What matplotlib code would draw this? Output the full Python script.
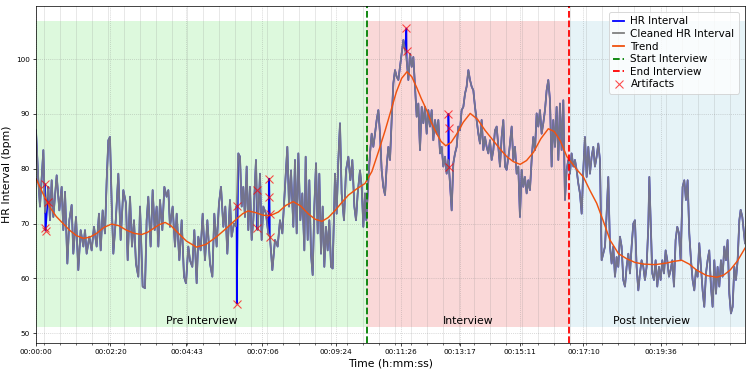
import numpy as np
import matplotlib
matplotlib.use("Agg")
import matplotlib.pyplot as plt
from matplotlib.lines import Line2D

# cleaned HR interval: time (s) and value (bpm)
t_sec = [0, 4.4, 7.5, 13.8, 16.9, 23.2, 26.3, 29.5, 32.6, 38.9, 43.9, 48.3, 51.4, 54.6, 59.0,
         62.7, 67.1, 70.2, 75.3, 79.6, 84.0, 89.1, 92.2, 95.3, 100.3, 104.7, 109.1, 114.1, 118.5,
         121.7, 125.4, 129.8, 133.0, 136.1, 139.2, 142.4, 145.5, 150.5, 154.9, 159.3, 164.3, 169.3,
         172.5, 176.9, 180.6, 184.4, 188.1, 192.5, 195.7, 200.7, 205.1, 208.2, 211.3, 215.7, 219.5,
         223.3, 227.0, 230.2, 233.3, 237.7, 241.5, 245.8, 249.0, 252.1, 257.1, 261.5, 264.7, 269.7,
         274.1, 278.5, 282.2, 286.6, 289.7, 294.1, 297.9, 302.3, 305.4, 309.8, 313.6, 318.0, 322.4,
         327.4, 331.8, 335.5, 339.9, 344.3, 348.1, 352.5, 356.2, 360.0, 365.0, 368.1, 372.5, 376.3,
         380.7, 383.8, 387.0, 390.1, 393.2, 396.4, 399.5, 402.6, 405.8, 408.9, 413.9, 417.1, 421.5,
         424.6, 427.7, 432.7, 437.1,
         440.3, 444.7, 449.7, 454.7, 459.1, 463.5, 468.5, 472.9, 476.1, 479.8, 484.2, 487.3, 490.5,
         493.6, 497.4, 501.1, 504.9, 507.4, 511.2, 514.3, 517.4, 520.6, 523.7, 526.9, 530.0, 533.1,
         536.3, 539.4, 542.5, 545.7, 548.8, 551.9, 555.1, 558.2, 562.6, 565.7, 568.9, 572.0, 575.1,
         579.5, 583.3, 587.7, 591.5, 595.2, 599.0, 602.1, 605.3, 609.6, 612.8, 615.9, 619.0, 621.6,
         625.3, 628.5, 631.6, 634.7, 637.9, 641.0, 644.1, 647.3, 650.4, 653.5, 656.7, 659.8, 663.0,
         666.1, 669.2, 672.4, 675.5, 678.6, 681.8, 684.9, 688.0, 691.2, 694.3, 697.5, 700.6, 703.7,
         706.9, 710.0, 713.1, 716.3, 719.4, 722.5, 725.7, 728.8, 731.9, 735.1, 738.2, 741.3, 744.5,
         747.6, 750.8, 753.9, 757.0, 760.2, 763.3, 766.4, 769.6, 772.7, 775.8, 779.0, 782.1, 785.2,
         788.4, 791.5, 794.6, 797.8, 800.9, 804.1, 807.2, 810.3, 813.5, 816.6, 819.7, 822.9, 826.0,
         829.1, 832.3, 835.4, 838.5, 841.7, 844.8, 847.9, 851.1, 854.2, 857.4, 860.5, 863.6, 866.8,
         869.9, 873.0, 876.2, 879.3, 882.5,
         885.5, 890.6, 895.0, 898.1, 901.2, 904.4, 907.5, 910.6, 913.8, 916.9, 920.0, 923.2, 926.3,
         929.4, 932.6, 935.7, 938.9, 942.0, 945.1, 948.3, 951.4, 954.5, 957.7, 960.8, 963.9, 967.1,
         970.2, 973.3, 976.5, 979.6, 982.8, 985.9, 989.0, 992.2, 995.3, 998.4, 1001.6, 1004.7,
         1007.8, 1011.0, 1014.1, 1017.2, 1020.4, 1023.5, 1026.7, 1029.8, 1032.9, 1036.1, 1039.2,
         1042.3, 1045.5, 1048.6, 1051.7, 1054.9, 1058.0, 1061.1, 1064.3, 1067.4, 1070.6, 1073.7,
         1076.8, 1080.0, 1083.1, 1086.2, 1089.4, 1092.5, 1095.6, 1098.8, 1101.9, 1105.0, 1108.2,
         1111.3, 1114.5, 1117.6, 1120.7, 1123.9, 1127.0, 1130.1, 1133.3, 1136.4, 1139.5, 1142.7,
         1145.8, 1148.9, 1152.1, 1154.0, 1156.5, 1159.6, 1162.7, 1165.9, 1169.0, 1172.2, 1175.3,
         1178.4, 1181.6, 1184.7, 1187.8, 1191.0, 1194.1, 1197.2, 1200.4, 1203.5, 1206.6, 1209.8,
         1212.9, 1216.7, 1219.8, 1222.9, 1226.1, 1229.2, 1232.4, 1235.5, 1238.6, 1241.8, 1244.9,
         1248.0, 1251.2, 1254.3, 1257.4, 1260.6, 1263.7, 1266.8, 1270.0, 1273.1, 1276.3, 1279.4,
         1282.5, 1285.7, 1288.8, 1291.9, 1295.1, 1298.2, 1301.3, 1304.5, 1307.6, 1310.8, 1313.9,
         1317.0, 1320.2, 1323.4, 1325.9, 1329.0, 1332.1, 1334.0]
hr_bpm = [87.0, 77.9, 73.1, 83.4, 72.0, 76.7, 70.6, 77.9, 71.2, 78.8, 72.4, 76.7, 68.8, 75.8, 62.7,
          70.6, 73.4, 64.5, 71.2, 61.5, 68.8, 65.8, 68.8, 64.5, 67.6, 65.1, 69.4, 65.8, 71.8,
          65.1, 72.4, 68.2, 77.9, 85.2, 85.8, 73.7, 64.5, 71.2, 79.1, 67.0, 76.1, 73.7,
          63.3, 74.9, 65.8, 70.6, 62.7, 60.3, 73.1, 58.5, 58.2, 70.6, 74.9, 65.8, 76.1,
          68.8, 73.1, 65.8, 74.3, 68.8, 76.7, 74.9, 76.1, 69.4, 73.1, 65.8, 71.8, 63.3,
          70.6, 60.3, 59.1, 65.8, 63.3, 62.1, 68.8, 59.1, 67.6, 65.1, 71.8, 63.3, 70.6,
          62.7, 60.3, 71.8, 65.8, 73.7, 76.7, 69.4, 73.1, 64.5, 74.3, 67.6, 70.0, 69.5,
          82.8, 82.2, 73.1, 76.7, 71.2, 80.4, 68.8, 76.7, 67.0, 70.6, 81.6, 68.8, 79.1,
          67.0, 73.1, 71.8, 68.2,
          67.5, 61.5, 67.0, 65.8, 70.6, 68.2, 76.7, 84.0, 73.1, 79.7, 69.4, 81.6, 68.2,
          82.8, 70.6, 75.5, 65.1, 82.2, 67.0, 77.9, 64.5, 60.6, 73.1, 81.0, 68.2, 79.1,
          64.5, 73.1, 62.1, 69.4, 65.1, 70.6, 62.1, 61.8, 79.1, 71.8, 81.6, 88.3, 75.5,
          70.6, 79.7, 82.2, 77.9, 81.6, 73.1, 70.6, 75.5, 79.7, 76.7, 69.4, 75.5, 70.6,
          77.9, 82.8, 86.4, 84.0, 86.4, 88.9, 90.7, 86.4, 79.7, 76.7, 75.2, 80.4, 84.0,
          81.6, 88.9, 95.6, 98.0, 96.8, 96.2, 98.6, 101.0, 103.5, 101.6, 99.8, 96.2, 101.0,
          98.6, 100.4, 95.0, 89.5, 91.9, 83.4, 91.3, 88.3, 91.3, 86.4, 90.7, 87.7, 90.7,
          85.2, 88.9, 86.4, 88.9, 82.8, 84.0, 80.4, 82.2, 79.1, 81.6, 77.3, 72.4, 81.0,
          82.8, 84.0, 87.7, 87.0, 90.7, 91.3, 93.7, 95.0, 98.0, 96.2, 95.0, 94.3, 91.3,
          88.9, 86.4, 84.6, 88.9, 83.4, 85.8, 84.0, 82.8, 85.2, 81.6, 83.4, 87.0, 87.7,
          84.0, 80.4, 85.8, 88.9, 80.4,
          79.8, 83.4, 87.7, 81.6, 84.0, 79.1, 80.4, 71.2, 79.8, 76.7, 78.5, 75.5, 77.9,
          76.1, 81.6, 85.8, 83.4, 90.1, 87.7, 90.7, 86.4, 88.3, 90.7, 94.3, 96.2, 92.5,
          80.4, 88.9, 84.0, 91.3, 81.6, 91.9, 83.4, 92.5, 74.3, 79.8, 81.6, 79.1,
          82.8, 80.4, 81.6, 79.8, 77.3, 75.5, 71.8, 79.8, 85.8, 78.5, 84.0,
          79.1, 82.2, 84.0, 80.4, 82.2, 84.6, 81.6, 63.3, 64.5, 65.8, 71.8,
          78.5, 65.8, 62.7, 65.8, 60.3, 63.9, 62.1, 67.6, 65.8, 59.7, 58.5,
          62.1, 64.5, 60.9, 65.8, 70.0, 70.6, 62.1, 57.8, 60.9, 63.3, 62.1,
          59.7, 62.1, 69.4, 78.5, 70.6, 60.9, 59.7, 63.3, 58.5, 62.1, 59.7,
          63.3, 60.9, 65.1, 63.3, 60.3, 61.5, 63.3, 58.5, 67.0, 69.4, 68.2,
          63.3, 76.7, 77.9, 74.3, 77.9, 68.2, 63.3, 59.7, 57.8, 61.5, 60.3,
          66.4, 62.1, 57.8, 54.8, 60.9, 63.3, 65.1, 58.5, 54.8, 63.3, 57.2,
          62.1, 58.5, 63.3, 60.3, 65.8, 63.3, 67.0, 57.2, 53.6, 54.8, 62.1,
          59.7, 63.3, 70.6, 72.5, 71.2, 68.2, 66.4]

# beats flagged as artifacts (raw values)
art_t = [17.0, 17.5, 18.0, 21.8, 377.4, 377.9, 415.0, 415.5, 438.8, 439.3, 439.8, 440.0,
         697.0, 697.3, 776.0, 776.4, 777.0]
art_bpm = [77.2, 69.1, 68.7, 73.9, 73.2, 55.4, 76.1, 69.1, 78.2, 74.9, 71.8, 67.5,
           105.6, 101.5, 90.0, 87.5, 80.3]

# smoothed trend
trend_t = [0, 13, 26, 38, 51, 63, 76, 89, 101, 114, 128, 142, 156, 170, 185, 199, 210, 221, 232,
           243, 254, 265, 283, 302, 320, 340, 359, 378, 389, 399, 413, 428, 442, 456, 470, 484,
           498, 512, 525, 538, 550, 563, 575, 588, 603, 619, 632, 644, 657, 669, 678, 688, 698,
           707, 716, 725, 735, 744, 754, 762, 771, 781, 792, 804, 817, 831, 845, 860, 873, 886,
           898, 911, 923, 936, 950, 964, 975, 986, 999, 1017, 1030, 1042, 1055, 1068, 1080,
           1096, 1111, 1127, 1143, 1165, 1187, 1200, 1215, 1229, 1243, 1262, 1281, 1294, 1306,
           1320, 1334]
trend_bpm = [78.2, 75.5, 73.0, 71.3, 70.0, 68.8, 67.8, 67.3, 67.5, 68.2, 69.3, 69.9, 69.6, 68.8,
             68.2, 68.0, 68.4, 69.1, 69.8, 70.2, 69.6, 68.5, 66.8, 65.7, 66.2, 67.6, 69.2, 70.9,
             71.8, 72.3, 72.0, 71.5, 71.5, 72.1, 73.3, 74.0, 73.2, 71.8, 70.8, 70.4, 71.1, 72.4,
             73.8, 75.2, 76.3, 77.3, 79.5, 83.0, 87.0, 91.0, 94.0, 96.5, 97.7, 96.8, 94.9, 92.8,
             90.7, 88.4, 86.4, 85.0, 84.2, 84.8, 86.4, 88.5, 90.1, 89.0, 87.0, 85.2, 83.6, 82.2,
             81.3, 80.8, 81.5, 83.0, 85.5, 87.3, 86.8, 85.2, 82.2, 79.9, 78.5, 76.1, 73.7, 70.3,
             67.0, 64.5, 63.6, 62.9, 62.6, 62.5, 62.8, 63.1, 63.3, 62.6, 61.5, 60.5, 60.2, 60.6,
             61.5, 63.2, 65.5]

start_interview = 623
end_interview = 1002
end_recording = 1334

tick_secs = [0, 140, 283, 426, 564, 686, 797, 911, 1030, 1176]
tick_labels = ["00:00:00", "00:02:20", "00:04:43", "00:07:06", "00:09:24",
               "00:11:26", "00:13:17", "00:15:11", "00:17:10", "00:19:36"]

# raw series = cleaned + artifact beats
raw_t = np.array(t_sec + art_t)
raw_v = np.array(hr_bpm + art_bpm)
order = np.argsort(raw_t, kind="stable")
raw_t, raw_v = raw_t[order], raw_v[order]

fig = plt.figure(figsize=(750 / 65, 371 / 65), dpi=65)
ax = fig.add_axes([0.048, 0.0755, 0.9453, 0.9083])

band_lo, band_hi = 51.15, 107.0
ax.fill_between([0, start_interview], band_lo, band_hi, color="lightgreen", alpha=0.3, lw=0)
ax.fill_between([start_interview, end_interview], band_lo, band_hi, color="lightcoral", alpha=0.3, lw=0)
ax.fill_between([end_interview, end_recording], band_lo, band_hi, color="lightblue", alpha=0.3, lw=0)

ax.plot(raw_t, raw_v, color="blue", lw=1.8)
ax.plot(t_sec, hr_bpm, color="gray", lw=2, alpha=0.9)
ax.plot(trend_t, trend_bpm, color="#f0520f", lw=1.6)
ax.axvline(start_interview, color="green", ls="--", lw=2)
ax.axvline(end_interview, color="red", ls="--", lw=2)
ax.plot(art_t, art_bpm, "x", color="red", alpha=0.7, ms=9, mew=1.2)

lab_y = 51.7
ax.text(start_interview / 2, lab_y, "Pre Interview", ha="center", fontsize=12)
ax.text((start_interview + end_interview) / 2, lab_y, "Interview", ha="center", fontsize=12)
ax.text((end_interview + end_recording) / 2 - 10, lab_y, "Post Interview", ha="center", fontsize=12)

ax.set_xlim(0, end_recording)
ax.set_ylim(48.2, 109.7)
ax.set_xticks(tick_secs)
ax.set_xticklabels(tick_labels, fontsize=8)
ax.set_xticks(np.arange(15, end_recording, 30), minor=True)
ax.set_yticks([50, 60, 70, 80, 90, 100])
ax.tick_params(axis="y", labelsize=8)
ax.grid(True, which="major", ls=":", color="gray", alpha=0.5)
ax.grid(True, which="minor", axis="x", ls="-", color="gray", alpha=0.25)
ax.set_xlabel("Time (h:mm:ss)", fontsize=12)
ax.set_ylabel("HR Interval (bpm)", fontsize=12)

handles = [
    Line2D([], [], color="blue", lw=2),
    Line2D([], [], color="gray", lw=2),
    Line2D([], [], color="#f0520f", lw=2),
    Line2D([], [], color="green", ls="--", lw=2),
    Line2D([], [], color="red", ls="--", lw=2),
    Line2D([], [], color="red", marker="x", ls="", alpha=0.7, ms=9, mew=1.2),
]
labels = ["HR Interval", "Cleaned HR Interval", "Trend", "Start Interview", "End Interview", "Artifacts"]
ax.legend(handles, labels, loc="upper right", fontsize=11.5, labelspacing=0.25,
          handlelength=1.1, handletextpad=0.6, borderaxespad=0.6)

fig.savefig("out.png", dpi=65)
